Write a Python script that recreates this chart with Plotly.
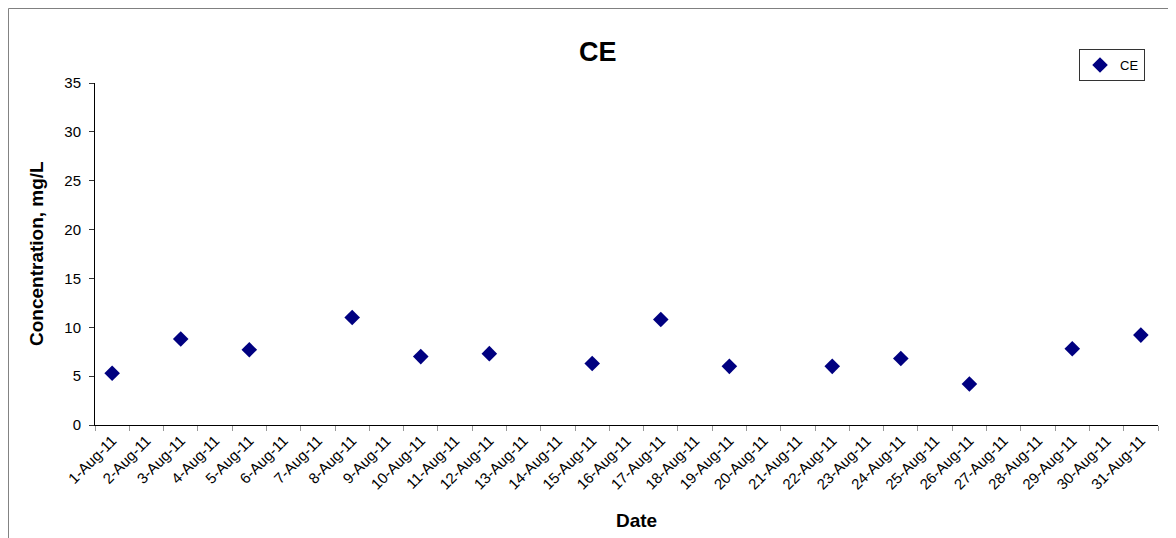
import plotly.graph_objects as go

# category axis: every day of August 2011
dates = [f"{d}-Aug-11" for d in range(1, 32)]

# sampled days and measured CE concentration (mg/L)
sample_dates = [
    "1-Aug-11", "3-Aug-11", "5-Aug-11", "8-Aug-11", "10-Aug-11",
    "12-Aug-11", "15-Aug-11", "17-Aug-11", "19-Aug-11", "22-Aug-11",
    "24-Aug-11", "26-Aug-11", "29-Aug-11", "31-Aug-11",
]
ce_values = [5.3, 8.8, 7.7, 11.0, 7.0, 7.3, 6.3, 10.8, 6.0, 6.0, 6.8, 4.2, 7.8, 9.2]

FONT = "Arial, Liberation Sans, sans-serif"

fig = go.Figure()
fig.add_trace(
    go.Scatter(
        x=sample_dates,
        y=ce_values,
        mode="markers",
        name="CE",
        marker=dict(symbol="diamond", size=12, color="#000080",
                    line=dict(width=0)),
    )
)

# the page body has an 8px margin, so the figure is sized to fit inside it
fig.update_layout(
    width=1168,
    height=530,
    margin=dict(l=87, r=18, t=75, b=113),
    paper_bgcolor="white",
    plot_bgcolor="white",
    font=dict(family=FONT, color="black"),
    showlegend=True,
    legend=dict(
        x=0.9257, y=1.0994, xanchor="left", yanchor="top",
        bordercolor="#333333", borderwidth=1,
        font=dict(size=13, family=FONT),
        itemwidth=30,
        tracegroupgap=0,
    ),
)

fig.update_xaxes(
    type="category",
    categoryorder="array",
    categoryarray=dates,
    range=[-0.5, 30.5],
    tickson="boundaries",
    ticks="outside",
    ticklen=5,
    tickcolor="#999999",
    tickangle=-45,
    tickfont=dict(size=15, family=FONT),
    showline=True,
    linecolor="black",
    linewidth=1,
    showgrid=False,
    zeroline=False,
)
fig.update_yaxes(
    range=[0, 35],
    dtick=5,
    ticks="outside",
    ticklen=5,
    tickcolor="#333333",
    ticklabelstandoff=5,
    tickfont=dict(size=15, family=FONT),
    showline=True,
    linecolor="black",
    linewidth=1,
    showgrid=False,
    zeroline=False,
)

# chart title and axis titles placed like the original
fig.add_annotation(text="<b>CE</b>", xref="paper", yref="paper",
                   x=0.473, y=1.0906, xanchor="center", yanchor="middle",
                   showarrow=False, font=dict(size=27, family=FONT))
fig.add_annotation(text="<b>Date</b>", xref="paper", yref="paper",
                   x=0.509, y=-0.2807, xanchor="center", yanchor="middle",
                   showarrow=False, font=dict(size=19, family=FONT))
fig.add_annotation(text="<b>Concentration, mg/L</b>", xref="paper", yref="paper",
                   x=-0.0555, y=0.5, xanchor="center", yanchor="middle",
                   textangle=-90, showarrow=False,
                   font=dict(size=19, family=FONT))

# outer chart-area border: only the left and top edges are visible
border = dict(color="#808080", width=1)
fig.add_shape(type="line", xref="paper", yref="paper",
              x0=-0.0814, y0=-0.4, x1=-0.0814, y1=1.2178, line=border)
fig.add_shape(type="line", xref="paper", yref="paper",
              x0=-0.0814, y0=1.2178, x1=1.1, y1=1.2178, line=border)

fig.write_html("out.html")
